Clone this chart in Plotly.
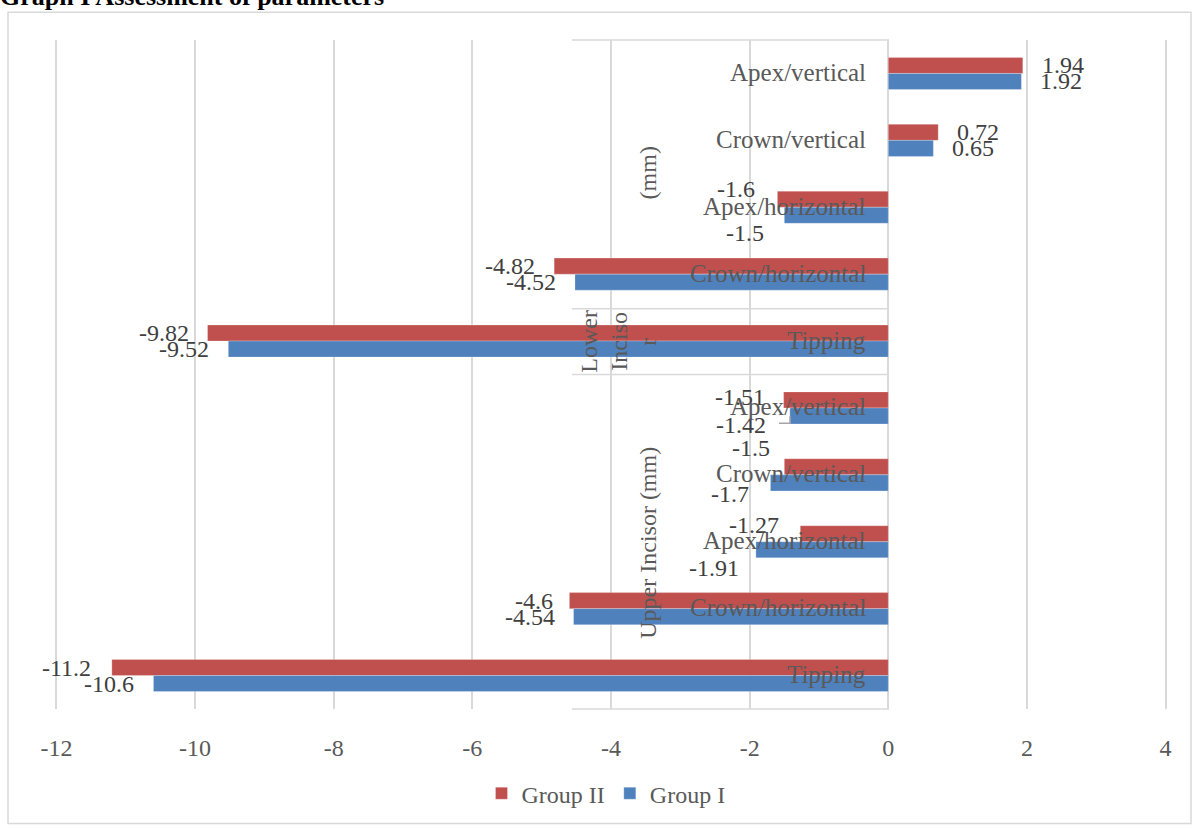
import plotly.graph_objects as go

# ---- data ----
groups = ["Lower Incisor (mm)"] * 5 + ["Upper Incisor (mm)"] * 5
params = ["Apex/vertical", "Crown/vertical", "Apex/horizontal", "Crown/horizontal", "Tipping",
          "Apex/vertical", "Crown/vertical", "Apex/horizontal", "Crown/horizontal", "Tipping"]
group2 = [1.94, 0.72, -1.6, -4.82, -9.82, -1.51, -1.5, -1.27, -4.6, -11.2]
group1 = [1.92, 0.65, -1.5, -4.52, -9.52, -1.42, -1.7, -1.91, -4.54, -10.6]
series_names = ["Group II", "Group I"]
x_ticks = [-12, -10, -8, -6, -4, -2, 0, 2, 4]

# ---- style ----
RED = "#C0504D"
BLUE = "#4F81BD"
GRID = "#D9D9D9"
FONT = "Liberation Serif"
TXT = "#595959"
LBL = "#404040"

keys = [f"{g}|{p}" for g, p in zip(groups, params)]

# label offsets (px): (xshift magnitude, yshift) per bar; default gap 17, 0
off2 = [(17, 0), (17, 0), (20, 10), (17, 0), (17, 0), (17, 3), (12, 19), (19, 9), (14, 0), (19, 0)]
off1 = [(17, 0), (17, 0), (18, -18), (17, 0), (17, 0), (22, -9), (19, -11), (15, -18), (17, 0), (17, 0)]

fig = go.Figure()
fig.add_trace(go.Bar(y=keys, x=group2, orientation="h", name=series_names[0],
                     marker=dict(color=RED, line=dict(color="rgba(255,255,255,0.5)", width=0.5))))
fig.add_trace(go.Bar(y=keys, x=group1, orientation="h", name=series_names[1],
                     marker=dict(color=BLUE, line=dict(color="rgba(255,255,255,0.5)", width=0.5))))

annotations = []
for vals, offs, dy in ((group2, off2, -0.12), (group1, off1, 0.12)):
    for i, (k, v) in enumerate(zip(keys, vals)):
        dx, sy = offs[i]
        pos = v >= 0
        annotations.append(dict(
            x=v, y=i + dy, xref="x", yref="y", text=f"{v:g}", showarrow=False,
            xanchor="left" if pos else "right", yanchor="middle",
            xshift=dx if pos else -dx, yshift=sy,
            font=dict(family=FONT, size=24, color=LBL)))

# category labels next to the zero line
for i, p in enumerate(params):
    annotations.append(dict(x=0, y=i, xref="x", yref="y", text=p, showarrow=False,
                            xanchor="right", yanchor="middle", xshift=-20, yshift=1,
                            font=dict(family=FONT, size=25, color=TXT)))

def px2paper(px, py):
    return (px - 55) / 1112, (712 - py) / 672

grp_texts = [("Upper Incisor (mm)", 648, 545), ("Lower", 589, 343), ("Inciso", 619, 343),
             ("r", 648, 343), ("(mm)", 648, 174)]
for t, gx, gy in grp_texts:
    xx, yy = px2paper(gx, gy)
    annotations.append(dict(x=xx, y=yy, xref="paper", yref="paper", text=t, showarrow=False,
                            textangle=-90, xanchor="center", yanchor="middle",
                            font=dict(family=FONT, size=24, color=TXT)))

# title (partly cut off at top as in the reference)
tx, ty = px2paper(-2, 13)
annotations.append(dict(x=tx, y=ty, xref="paper", yref="paper",
                        text="<b>Graph I Assessment of parameters</b>", showarrow=False,
                        xanchor="left", yanchor="bottom",
                        font=dict(family=FONT, size=26, color="#000000")))

shapes = []
for py in (40, 310, 376, 712):
    x0, y0 = px2paper(572, py)
    x1, _ = px2paper(889, py)
    shapes.append(dict(type="line", xref="paper", yref="paper", x0=x0, x1=x1, y0=y0, y1=y0,
                       line=dict(color=GRID, width=1.5)))
a0 = px2paper(779, 425)
a1 = px2paper(790, 425)
a2 = px2paper(790, 418)
shapes.append(dict(type="path", xref="paper", yref="paper",
                   path=f"M {a0[0]},{a0[1]} L {a1[0]},{a1[1]} L {a2[0]},{a2[1]}",
                   line=dict(color="#A6A6A6", width=1.5)))
b0 = px2paper(8, 12)
b1 = px2paper(1191, 827)
shapes.append(dict(type="rect", xref="paper", yref="paper", x0=b0[0], y0=b1[1], x1=b1[0], y1=b0[1],
                   line=dict(color=GRID, width=1.5), layer="below"))

lx, ly = px2paper(606, 797)

fig.update_layout(
    width=1192, height=828,
    margin=dict(l=55, r=25, t=40, b=116),
    paper_bgcolor="white", plot_bgcolor="white",
    barmode="group", bargap=0.52, bargroupgap=0,
    showlegend=True,
    legend=dict(orientation="h", x=lx, y=ly, xanchor="center", yanchor="middle",
                font=dict(family=FONT, size=24, color=TXT), traceorder="normal",
                itemwidth=30),
    xaxis=dict(range=[-12.02, 4.02], tickvals=x_ticks, ticktext=[str(t) for t in x_ticks],
               showgrid=True, gridcolor=GRID, gridwidth=1.5,
               zeroline=True, zerolinecolor=GRID, zerolinewidth=1.5,
               showline=False, ticks="", ticklabelstandoff=22,
               tickfont=dict(family=FONT, size=24, color=TXT)),
    yaxis=dict(type="category", categoryorder="array", categoryarray=keys,
               autorange="reversed", showticklabels=False, showgrid=False,
               zeroline=False, showline=False, ticks=""),
    annotations=annotations, shapes=shapes,
)

fig.write_html("out.html")
